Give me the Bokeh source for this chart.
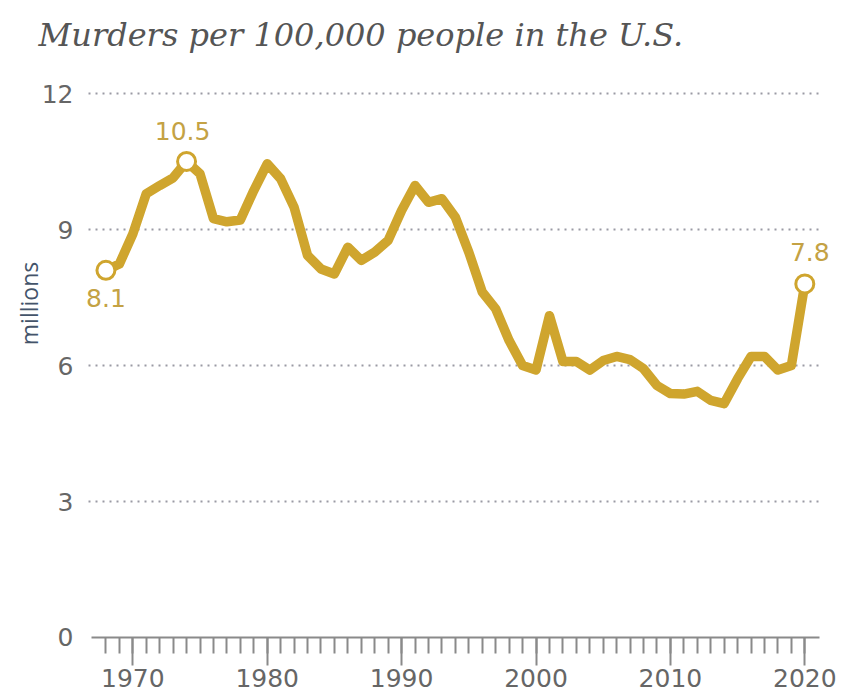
import math
from bokeh.plotting import figure
from bokeh.models import Label, FixedTicker, Range1d
from bokeh.embed import file_html
from bokeh.resources import INLINE

years = list(range(1968, 2021))
rates = [8.1, 8.24, 8.9, 9.79, 9.97, 10.14, 10.5, 10.23, 9.24, 9.17,
         9.21, 9.86, 10.45, 10.12, 9.49, 8.43, 8.13, 8.02, 8.61, 8.32,
         8.50, 8.76, 9.42, 9.97, 9.60, 9.68, 9.27, 8.50, 7.62, 7.25,
         6.55, 6.0, 5.9, 7.1, 6.09, 6.09, 5.9, 6.11, 6.2, 6.13,
         5.93, 5.56, 5.38, 5.37, 5.43, 5.23, 5.16, 5.71, 6.2, 6.2,
         5.9, 6.0, 7.8]
marked_years = [1968, 1974, 2020]
marked_labels = ["8.1", "10.5", "7.8"]
y_ticks = [0, 3, 6, 9, 12]
grid_values = [3, 6, 9, 12]
x_major = [1970, 1980, 1990, 2000, 2010, 2020]
x_minor = list(range(1968, 2021))

title_text = "Murders per 100,000 people in the U.S."
side_text = "millions"

LINE = "#CFA52E"
LABEL = "#C4A244"
GREY = "#8a8a8a"
DOT = "#9a9aa4"

W, H = 845, 697
X_LEFT, X_RIGHT = 1960.156, 2023.028
Y_BOTTOM, Y_TOP = -1.3236, 14.052
GRID_X0, GRID_X1 = 1966.704, 2021.168

p = figure(width=W, height=H, output_backend="svg", toolbar_location=None,
           title=None,
           x_range=Range1d(X_LEFT, X_RIGHT), y_range=Range1d(Y_BOTTOM, Y_TOP),
           min_border=0)
p.outline_line_color = None
p.background_fill_color = "white"
p.xgrid.visible = False
p.ygrid.visible = False

# dotted horizontal gridlines
p.segment(x0=[GRID_X0] * len(grid_values), x1=[GRID_X1] * len(grid_values),
          y0=grid_values, y1=grid_values, line_color=DOT, line_width=2,
          line_dash="2 5")

# y axis
p.yaxis.fixed_location = GRID_X0
p.yaxis.bounds = (0, 12)
p.yaxis.ticker = FixedTicker(ticks=y_ticks)
p.yaxis.axis_line_color = None
p.yaxis.major_tick_line_color = None
p.yaxis.minor_tick_line_color = None
p.yaxis.major_label_text_font = "DejaVu Sans"
p.yaxis.major_label_text_font_size = "25px"
p.yaxis.major_label_text_color = "#666666"
p.yaxis.major_label_standoff = 9

# x axis
p.xaxis.fixed_location = 0
p.xaxis.bounds = (1966.92, 2021.09)
p.xaxis.ticker = FixedTicker(ticks=x_major, minor_ticks=x_minor)
p.xaxis.axis_line_color = GREY
p.xaxis.axis_line_width = 2
p.xaxis.major_tick_line_color = GREY
p.xaxis.major_tick_line_width = 2
p.xaxis.major_tick_in = 0
p.xaxis.major_tick_out = 28
p.xaxis.minor_tick_line_color = GREY
p.xaxis.minor_tick_line_width = 2
p.xaxis.minor_tick_in = 0
p.xaxis.minor_tick_out = 16
p.xaxis.major_label_text_font = "DejaVu Sans"
p.xaxis.major_label_text_font_size = "25px"
p.xaxis.major_label_text_color = "#666666"
p.xaxis.major_label_standoff = 4

# line
p.line(years, rates, line_color=LINE, line_width=9.5, line_join="round",
       line_cap="round")
mx = [years[years.index(y)] for y in marked_years]
my = [rates[years.index(y)] for y in marked_years]
p.scatter(mx, my, size=18, fill_color="white", line_color=LINE, line_width=3)

offsets = {1968: (0, -28), 1974: (-4, 31), 2020: (5, 32)}
for yr, txt in zip(marked_years, marked_labels):
    dx, dy = offsets[yr]
    p.add_layout(Label(x=yr, y=rates[years.index(yr)], x_offset=dx, y_offset=dy,
                       text=txt, text_align="center", text_baseline="middle",
                       text_font="DejaVu Sans", text_font_size="25px",
                       text_color=LABEL))

# title
p.add_layout(Label(x=38, y=H - 34.3, x_units="screen", y_units="screen",
                   text=title_text, text_font="DejaVu Serif",
                   text_font_style="italic", text_font_size="32px",
                   text_color="#555555", text_baseline="alphabetic",
                   text_align="left"))

# side label
p.add_layout(Label(x=28, y=H - 303, x_units="screen", y_units="screen",
                   text=side_text, angle=math.pi / 2, text_font="Open Sans",
                   text_font_size="23px", text_color="#44546A",
                   text_align="center", text_baseline="alphabetic"))

open("out.html", "w").write(file_html(p, INLINE))
